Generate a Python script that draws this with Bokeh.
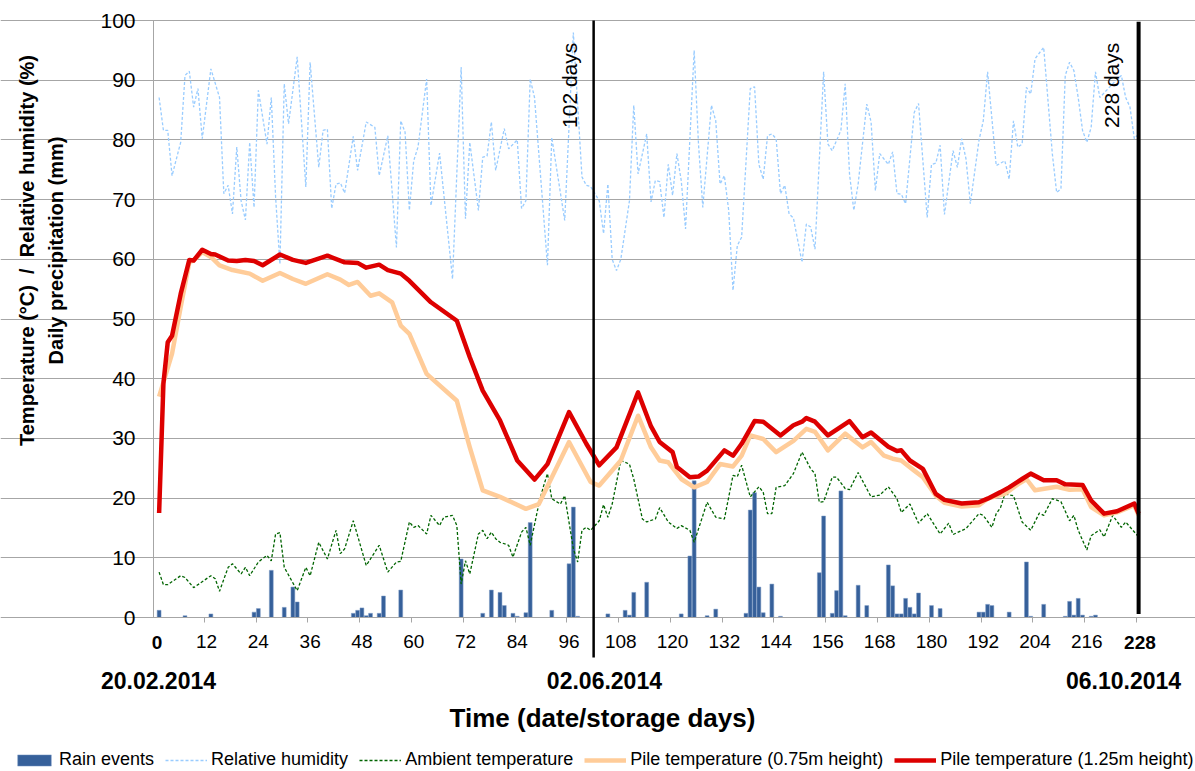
from math import pi
from bokeh.plotting import figure
from bokeh.models import Range1d, FixedTicker, Label, Arrow, Legend, LegendItem
from bokeh.embed import file_html
from bokeh.resources import INLINE

# ---------------- data ----------------
rain_days = [1, 7, 13, 23, 24, 27, 30, 32, 33, 46, 47, 48, 49, 50, 52, 53, 57, 71, 76, 78, 80, 81, 83, 84,
             86, 87, 92, 96, 97, 98, 105, 109, 110, 111, 114, 122, 124, 125, 128, 130, 137, 138, 139, 140,
             141, 143, 145, 154, 155, 157, 158, 159, 160, 163, 165, 170, 171, 172, 173, 174, 175, 176, 177,
             180, 182, 191, 192, 193, 194, 198, 202, 203, 206, 211, 212, 213, 214, 215, 217, 218]
rain_mm = [1.2, 0.3, 0.6, 0.9, 1.5, 7.9, 1.7, 5.1, 2.6, 0.7, 1.2, 1.6, 0.3, 0.7, 0.7, 3.6, 4.6, 9.8, 0.7, 4.6,
           4.2, 2.0, 0.7, 0.2, 0.8, 15.9, 1.2, 9.0, 18.5, 0.2, 0.6, 1.2, 0.4, 4.2, 5.9, 0.6, 10.3, 22.9, 0.3,
           1.4, 0.7, 18.0, 20.9, 5.1, 0.8, 5.6, 0.2, 7.5, 17.0, 0.7, 4.5, 21.2, 0.3, 5.4, 2.0, 8.8, 5.3, 0.6,
           0.6, 3.2, 1.7, 0.6, 4.1, 2.0, 1.5, 0.9, 0.9, 2.2, 2.0, 0.9, 9.3, 0.2, 2.2, 0.2, 2.7, 0.4, 3.2, 0.4,
           0.2, 0.4]

rh_days = [1, 2, 3, 4, 6, 7, 8, 9, 10, 11, 13, 15, 16, 17, 18, 19, 20, 21, 22, 23, 24, 26, 27, 28, 29, 30,
           31, 33, 35, 36, 38, 39, 40, 41, 42, 43, 44, 46, 47, 49, 51, 52, 54, 56, 57, 58, 59, 60, 61, 63,
           64, 66, 69, 71, 72, 73, 75, 76, 77, 78, 79, 81, 82, 84, 85, 86, 87, 88, 91, 92, 95, 97, 99, 100,
           101, 103, 104, 105, 106, 107, 108, 110, 111, 112, 114, 115, 116, 117, 118, 119, 120, 121, 122,
           123, 125, 126, 127, 129, 130, 131, 132, 133, 134, 135, 136, 138, 139, 140, 141, 142, 143, 144,
           145, 146, 147, 148, 150, 151, 152, 153, 155, 156, 157, 159, 160, 161, 162, 163, 165, 166, 167,
           168, 170, 171, 172, 173, 174, 176, 177, 179, 180, 181, 182, 183, 185, 186, 187, 188, 189, 191,
           192, 193, 195, 197, 198, 199, 200, 201, 202, 203, 204, 206, 208, 209, 210, 211, 212, 213, 214,
           215, 216, 217, 218, 219, 222, 224, 225, 226, 227, 228]
rh_vals = [87.1, 81.6, 81.6, 74.0, 79.6, 90.8, 91.5, 85.5, 88.6, 80.2, 91.9, 87.1, 71.0, 72.4, 67.6, 78.8,
           69.8, 66.6, 79.6, 68.7, 88.3, 79.3, 87.1, 70.4, 59.2, 89.4, 82.7, 93.9, 72.1, 93.0, 75.4, 81.6,
           81.8, 68.5, 72.6, 72.8, 71.1, 80.6, 74.9, 83.0, 82.1, 74.0, 80.7, 62.0, 83.2, 81.3, 68.2, 76.5,
           78.8, 90.2, 69.0, 77.8, 56.7, 92.2, 66.8, 79.6, 68.2, 77.1, 77.3, 83.0, 74.9, 81.9, 78.5, 80.0,
           68.5, 69.8, 90.2, 87.1, 59.0, 80.4, 66.5, 98.0, 73.8, 72.4, 72.2, 69.8, 64.3, 72.6, 60.0, 58.1,
           60.0, 69.8, 85.8, 74.3, 81.0, 69.6, 73.2, 73.0, 67.0, 75.9, 70.7, 77.7, 73.2, 65.1, 95.0, 79.3,
           68.7, 85.8, 83.2, 72.6, 74.0, 68.2, 54.8, 62.3, 63.7, 88.6, 88.9, 75.9, 73.4, 80.7, 81.0, 80.2,
           71.0, 72.4, 67.6, 66.9, 59.5, 65.9, 65.4, 61.7, 91.4, 79.3, 78.2, 81.6, 89.4, 74.3, 68.2, 72.6,
           86.0, 83.0, 71.5, 77.7, 75.9, 78.0, 71.0, 70.9, 69.3, 84.6, 86.1, 67.0, 75.9, 76.1, 79.1, 67.5,
           78.2, 75.4, 80.2, 76.8, 69.3, 79.9, 83.2, 91.4, 75.7, 76.5, 73.4, 83.2, 78.8, 79.3, 88.8, 87.7,
           93.6, 95.5, 77.7, 71.2, 71.8, 90.8, 93.0, 91.6, 87.1, 81.6, 79.6, 82.1, 91.4, 87.1, 89.4, 90.8,
           87.1, 85.5, 80.2, 81.0]

amb_days = [1, 2, 3, 6, 7, 9, 13, 14, 15, 17, 18, 20, 21, 22, 24, 26, 27, 28, 29, 30, 33, 35, 36, 38, 40,
            42, 43, 44, 46, 49, 52, 54, 56, 57, 59, 60, 61, 63, 64, 66, 67, 69, 70, 71, 72, 73, 75, 76, 77,
            78, 79, 80, 82, 83, 85, 86, 87, 89, 90, 91, 92, 94, 95, 97, 98, 99, 100, 101, 103, 104, 105, 106,
            108, 110, 111, 113, 114, 116, 117, 119, 121, 122, 124, 125, 128, 130, 132, 134, 135, 136, 138,
            140, 141, 142, 143, 144, 146, 148, 150, 152, 153, 154, 155, 157, 158, 160, 161, 163, 166, 168,
            170, 172, 173, 175, 177, 179, 182, 184, 185, 188, 191, 192, 194, 195, 196, 197, 199, 201, 203,
            205, 206, 208, 210, 212, 213, 214, 216, 217, 219, 220, 222, 224, 225, 228]
amb_vals = [7.6, 5.5, 5.5, 7.0, 6.7, 5.0, 7.0, 6.5, 4.4, 8.4, 9.0, 7.3, 8.4, 7.0, 9.3, 10.4, 9.5, 14.0, 14.2,
            8.4, 4.5, 8.4, 7.0, 12.6, 9.8, 14.6, 10.7, 11.5, 16.2, 8.7, 12.1, 7.6, 9.3, 9.4, 16.0, 15.1,
            15.4, 14.0, 17.1, 15.4, 16.8, 17.1, 15.4, 5.6, 9.5, 7.3, 14.0, 14.6, 13.2, 14.3, 13.2, 12.6,
            12.1, 10.1, 14.3, 15.1, 12.1, 19.0, 21.8, 24.1, 19.9, 19.0, 20.4, 11.5, 9.3, 14.6, 15.1, 14.6,
            16.2, 18.9, 16.8, 19.0, 26.3, 25.7, 23.2, 16.5, 16.0, 16.5, 18.4, 16.0, 14.9, 15.4, 14.6, 12.6,
            19.3, 16.8, 16.5, 23.8, 23.6, 25.5, 20.2, 21.9, 21.0, 17.4, 17.4, 21.8, 22.1, 24.1, 27.7, 24.9,
            24.1, 19.3, 19.4, 23.5, 23.5, 21.6, 21.4, 24.3, 20.2, 20.5, 21.9, 19.9, 17.6, 19.0, 15.8, 17.4,
            14.0, 15.8, 13.9, 14.9, 17.4, 17.1, 15.1, 17.4, 18.4, 20.7, 20.4, 16.0, 14.6, 17.5, 17.1, 19.9,
            19.4, 16.2, 17.1, 14.6, 11.3, 13.7, 14.7, 13.5, 17.1, 15.1, 16.0, 13.5]

pile075_days = [1, 4, 6, 8, 9, 11, 13, 15, 18, 22, 25, 29, 32, 35, 40, 43, 45, 47, 50, 52, 55, 57, 59, 63,
                70, 73, 76, 80, 86, 89, 96, 101, 103, 108, 112, 115, 117, 119, 122, 125, 128, 131, 134, 136,
                138, 141, 144, 148, 151, 153, 156, 160, 164, 166, 169, 171, 173, 176, 178, 181, 183, 187,
                191, 193, 197, 200, 202, 204, 209, 212, 215, 217, 220, 223, 227, 228]
pile075_vals = [37.0, 44.2, 52.0, 59.5, 59.8, 61.2, 60.4, 59.0, 58.2, 57.6, 56.4, 57.7, 56.7, 55.9, 57.5,
                56.6, 55.7, 56.2, 53.9, 54.3, 52.8, 48.9, 47.5, 40.8, 36.3, 28.5, 21.3, 20.2, 18.2, 19.0,
                29.4, 22.7, 22.1, 26.3, 33.8, 28.5, 26.3, 26.0, 23.2, 21.8, 22.7, 25.7, 25.3, 27.1, 30.5,
                29.9, 27.7, 29.6, 31.6, 31.1, 28.0, 30.8, 28.5, 29.4, 27.1, 26.6, 26.3, 24.6, 23.5, 20.4,
                19.2, 18.6, 18.8, 19.9, 20.7, 22.3, 23.2, 21.3, 21.9, 21.4, 21.5, 18.5, 17.1, 17.6, 18.8, 17.1]

pile125_days = [1, 2, 3, 4, 6, 8, 9, 11, 13, 14, 17, 19, 21, 23, 25, 29, 32, 35, 40, 44, 47, 49, 52, 54,
                57, 59, 64, 70, 73, 76, 80, 84, 88, 91, 96, 100, 103, 107, 112, 115, 117, 120, 121, 124,
                126, 128, 132, 134, 136, 139, 141, 145, 148, 150, 151, 153, 156, 161, 164, 166, 170, 172,
                173, 175, 178, 181, 183, 187, 191, 193, 196, 198, 201, 203, 206, 209, 211, 215, 217, 220,
                223, 227, 228]
pile125_vals = [17.5, 39.2, 46.1, 47.2, 54.2, 59.9, 59.8, 61.6, 60.9, 60.8, 59.8, 59.7, 59.9, 59.7, 59.0,
                60.8, 59.9, 59.4, 60.6, 59.5, 59.4, 58.6, 59.1, 58.2, 57.6, 56.4, 52.8, 49.7, 43.6, 38.0,
                33.0, 26.3, 23.1, 25.7, 34.4, 29.1, 25.5, 28.5, 37.7, 32.0, 29.4, 27.7, 25.2, 23.5, 23.6,
                24.6, 28.0, 27.1, 29.1, 32.9, 32.8, 30.5, 32.2, 32.8, 33.4, 32.8, 30.5, 32.9, 30.2, 31.0,
                28.6, 27.9, 28.0, 26.3, 24.9, 20.7, 19.7, 19.1, 19.3, 19.9, 21.0, 21.8, 23.2, 24.1, 23.0,
                23.0, 22.3, 22.2, 19.6, 17.4, 17.8, 19.1, 17.4]

day_ticks = list(range(0, 229, 12))
y_ticks = list(range(0, 101, 10))
date_labels = ["20.02.2014", "02.06.2014", "06.10.2014"]
date_label_days = [0.85, 104.2, 224.5]
event_days = [101.7, 228.0]
event_texts = ["102 days", "228 days"]
event_text_days = [96.1, 221.8]
x_title = "Time (date/storage days)"
y_title_lines = ["Temperature (°C) \u00a0/\u00a0 Relative humidity (%)", "Daily precipitation (mm)"]

# ---------------- layout constants ----------------
W, H = 1195, 771
X0_PX, DAY_PX = 153, 4.315          # left edge of plot area, pixels per day
Y0_PX, UNIT_PX = 617, 5.97           # pixel row of value 0, pixels per unit
DAY_LO, DAY_HI = -0.3, 228.2         # extent of the plot area in days
x_start = DAY_LO - X0_PX / DAY_PX
y_start = -(H - Y0_PX) / UNIT_PX

FONT = "Liberation Sans"
GRAY = "#A6A6A6"

p = figure(width=W, height=H,
           x_range=Range1d(x_start, x_start + W / DAY_PX),
           y_range=Range1d(y_start, y_start + H / UNIT_PX),
           output_backend="svg", toolbar_location=None,
           min_border=0, min_border_left=0, min_border_right=0, min_border_top=0, min_border_bottom=0)
p.outline_line_color = None
p.background_fill_color = "white"
p.border_fill_color = "white"
p.xgrid.visible = False
p.ygrid.grid_line_color = GRAY
p.ygrid.grid_line_width = 1
p.ygrid.bounds = (DAY_LO, DAY_HI)

bars = p.vbar(x=rain_days, top=rain_mm, width=0.9, fill_color="#36609A", line_color="#7F9CC6", line_width=0.5)
rh = p.line(rh_days, rh_vals, line_color="#99CCFF", line_width=1.3, line_dash="3 2")
amb = p.line(amb_days, amb_vals, line_color="#006400", line_width=1.3, line_dash="3 2")
p075 = p.line(pile075_days, pile075_vals, line_color="#FFCC99", line_width=4.5, line_join="round")
p125 = p.line(pile125_days, pile125_vals, line_color="#DD0000", line_width=4.5, line_join="round")

# axes (drawn through the plot area at the chart's origin)
xa = p.xaxis[0]
xa.fixed_location = 0
xa.bounds = (DAY_LO, DAY_HI)
xa.ticker = FixedTicker(ticks=day_ticks, minor_ticks=[d - 0.5 for d in day_ticks[1:]])
xa.major_label_overrides = {day_ticks[0]: " ", day_ticks[-1]: " "}
xa.major_tick_out = 0
xa.major_tick_in = 0
xa.minor_tick_out = 5
xa.minor_tick_in = 0
xa.minor_tick_line_color = GRAY
xa.axis_line_color = GRAY
xa.major_label_standoff = 8
xa.major_label_text_font = FONT
xa.major_label_text_font_size = "19px"
xa.major_label_text_color = "black"

ya = p.yaxis[0]
ya.fixed_location = DAY_LO
ya.bounds = (0, 100)
ya.ticker = FixedTicker(ticks=y_ticks)
ya.major_tick_out = 6
ya.major_tick_in = 0
ya.minor_tick_line_color = None
ya.major_tick_line_color = GRAY
ya.axis_line_color = GRAY
ya.major_label_standoff = 12
ya.major_label_text_font = FONT
ya.major_label_text_font_size = "21px"
ya.major_label_text_color = "black"

# bold end labels of the day axis
for d, t in [(day_ticks[0] + 0.5, "0"), (day_ticks[-1] + 0.3, "228")]:
    p.add_layout(Label(x=d, y=129, x_units="data", y_units="screen", text=t, text_align="center",
                       text_baseline="alphabetic", text_font=FONT, text_font_style="bold",
                       text_font_size="19px", text_color="black"))

# dates
for d, t in zip(date_label_days, date_labels):
    p.add_layout(Label(x=d, y=91, x_units="data", y_units="screen", text=t, text_align="center",
                       text_baseline="alphabetic", text_font=FONT, text_font_style="bold",
                       text_font_size="23px", text_color="black"))

# x title
p.add_layout(Label(x=103.75, y=54, x_units="data", y_units="screen", text=x_title, text_align="center",
                   text_baseline="alphabetic", text_font=FONT, text_font_style="bold",
                   text_font_size="26px", text_color="black"))

# y titles
for xs, t in zip([26, 55], y_title_lines):
    p.add_layout(Label(x=xs, y=H - 250, x_units="screen", y_units="screen", angle=pi / 2,
                       text=t, text_align="center", text_baseline="alphabetic", text_font=FONT,
                       text_font_style="bold", text_font_size="20px", text_color="black"))

# event lines
p.add_layout(Arrow(end=None, x_start=event_days[0], y_start=100, x_end=event_days[0], y_end=-6.7,
                   line_width=2.5, line_color="black"))
p.add_layout(Arrow(end=None, x_start=event_days[1], y_start=99.8, x_end=event_days[1], y_end=0.6,
                   line_width=4, line_color="black"))
for d, t in zip(event_text_days, event_texts):
    p.add_layout(Label(x=d, y=82, angle=pi / 2, text=t, text_align="left", text_baseline="middle",
                       text_font=FONT, text_font_size="21px", text_color="black"))

legend = Legend(items=[LegendItem(label="Rain events", renderers=[bars]),
                       LegendItem(label="Relative humidity", renderers=[rh]),
                       LegendItem(label="Ambient temperature", renderers=[amb]),
                       LegendItem(label="Pile temperature (0.75m height)", renderers=[p075]),
                       LegendItem(label="Pile temperature (1.25m height)", renderers=[p125])],
                orientation="horizontal", location=(13, 1), glyph_width=42, glyph_height=14,
                label_height=14, label_standoff=4, spacing=11, padding=0, margin=0,
                border_line_color=None, background_fill_alpha=0,
                label_text_font=FONT, label_text_font_size="18px", label_text_color="black")
p.add_layout(legend)

open("out.html", "w").write(file_html(p, INLINE))
